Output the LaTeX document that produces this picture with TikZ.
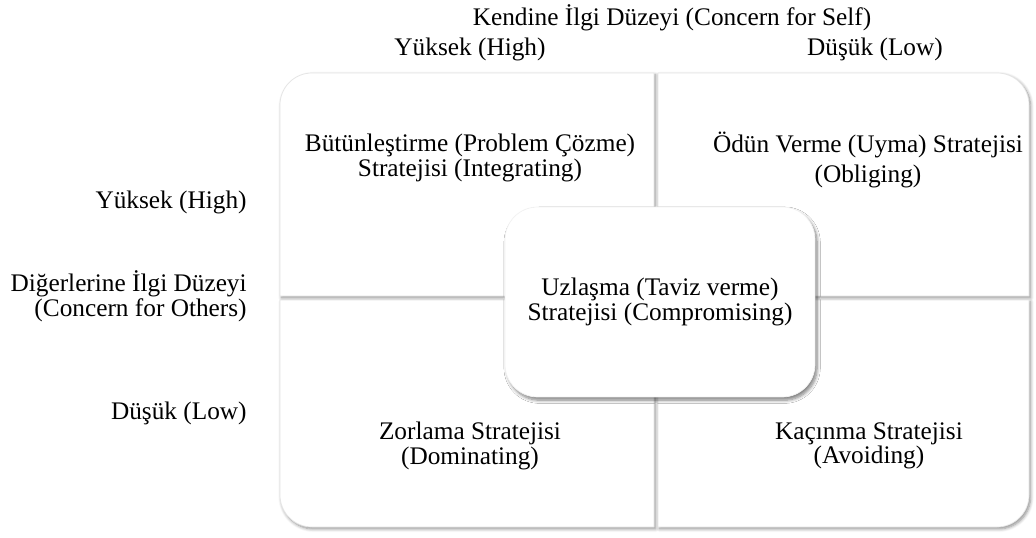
\documentclass[tikz,border=0pt]{standalone}
\usepackage{fontspec}
\setmainfont{Liberation Serif}
\usetikzlibrary{positioning,shadows.blur}

\begin{document}
\begin{tikzpicture}[x=0.02cm,y=-0.02cm,
  quad/.style={fill=white,draw=black!10,line width=0.4pt,blur shadow={shadow xshift=0.9pt,shadow yshift=-1.1pt,shadow blur steps=6,shadow opacity=45}},
  comp/.style={fill=white,draw=black!5,rounded corners=0.65cm,minimum width=6.2cm,minimum height=3.8cm,align=center,font=\fontsize{14.4}{14}\selectfont,blur shadow={shadow xshift=1.2pt,shadow yshift=-1.8pt,shadow blur steps=8,shadow opacity=50}},
  txt/.style={font=\fontsize{14.4}{14}\selectfont,align=center,inner sep=0pt},
  side/.style={txt,align=right,anchor=east}
]
\useasboundingbox (0,0) rectangle (1036,538);
% four quadrants, outer corners rounded
\path[quad] (654,296) -- (280,296) -- (280,105) arc[start angle=180,end angle=270,radius=32] -- (654,73) -- cycle;
\path[quad] (658,73) -- (997,73) arc[start angle=270,end angle=360,radius=32] -- (1029,296) -- (658,296) -- cycle;
\path[quad] (280,300) -- (654,300) -- (654,527) -- (312,527) arc[start angle=90,end angle=180,radius=32] -- cycle;
\path[quad] (658,300) -- (1029,300) -- (1029,495) arc[start angle=0,end angle=90,radius=32] -- (658,527) -- cycle;
% axis labels
\node[txt] (self) at (672,18) {Kendine İlgi Düzeyi (Concern for Self)};
\node[txt] (selfhigh) at (470,49) {Yüksek (High)};
\node[txt] (selflow) at (875,49) {Düşük (Low)};
\node[side] (othershigh) at (247,202) {Yüksek (High)};
\node[side] (others) at (247,296) {Diğerlerine İlgi Düzeyi\\(Concern for Others)};
\node[side] (otherslow) at (247,413) {Düşük (Low)};
% strategies
\node[txt] (integ) at (470,158) {Bütünleştirme (Problem Çözme)\\Stratejisi (Integrating)};
\node[txt,font=\fontsize{14.4}{17.5}\selectfont] (oblig) at (868,160) {Ödün Verme (Uyma) Stratejisi\\(Obliging)};
\node[txt] (domin) at (470,446) {Zorlama Stratejisi\\(Dominating)};
\node[txt] (avoid) at (869,446) {Kaçınma Stratejisi\\(Avoiding)};
\node[comp] (uzlasma) at (660,302) {Uzlaşma (Taviz verme)\\Stratejisi (Compromising)};
\end{tikzpicture}
\end{document}
